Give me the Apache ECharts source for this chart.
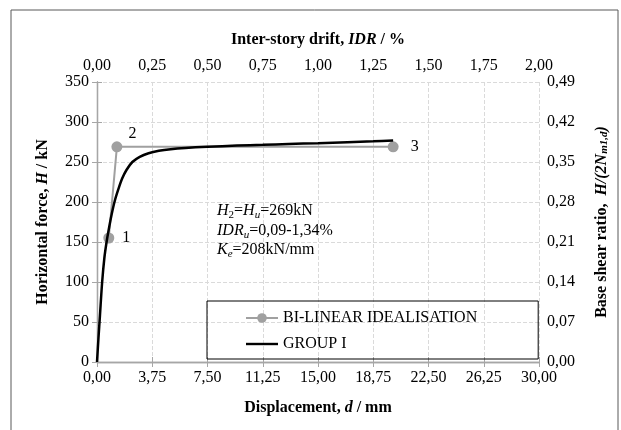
<!DOCTYPE html>
<html><head><meta charset="utf-8">
<script src="https://cdn.jsdelivr.net/npm/echarts@6/dist/echarts.min.js"></script>
<style>html,body{margin:0;padding:0;background:#fff}#c{width:621px;height:430px}</style>
</head><body><div id="c"></div>
<script>
const groupDisp  = [0, 0.1, 0.2, 0.35, 0.5, 0.65, 0.8, 1.0, 1.2, 1.45, 1.7, 2.0, 2.4, 2.9, 3.5, 4.2, 5.0, 6.0, 7.5, 9.5, 11.25, 13.0, 15.0, 17.0, 18.75, 20.1];
const groupForce = [0, 30, 58, 100, 130, 150, 166, 185, 201, 216, 229, 240, 250, 256.5, 261, 264, 266, 267.5, 269, 270.5, 271.5, 272.5, 273.5, 274.8, 275.8, 277];
const bilinDisp  = [0.8, 1.35, 20.1];
const bilinForce = [155, 269, 269];
const bilinLabels = ['1', '2', '3'];
const seriesNames = ['BI-LINEAR IDEALISATION', 'GROUP I'];

const FONT = 'Liberation Serif';
const comma = (v, d) => v.toFixed(d).replace('.', ',');
const chart = echarts.init(document.getElementById('c'), null, {renderer: 'canvas'});
const axisLine = {show: true, lineStyle: {color: '#a6a6a6', width: 1.3}};
const axisTick = {show: true, inside: false, length: 5, lineStyle: {color: '#a6a6a6'}};
const split = {show: true, lineStyle: {color: '#dadada', type: [4, 2], width: 1}};
const lbl = {color: '#000', fontFamily: FONT, fontSize: 16};
const nameRich = {
  b: {fontFamily: FONT, fontSize: 16, fontWeight: 'bold', color: '#000'},
  i: {fontFamily: FONT, fontSize: 16, fontWeight: 'bold', fontStyle: 'italic', color: '#000'},
  s: {fontFamily: FONT, fontSize: 11, fontWeight: 'bold', fontStyle: 'italic', color: '#000', verticalAlign: 'bottom', lineHeight: 12}
};
const annRich = {
  n: {fontFamily: FONT, fontSize: 16, color: '#000', lineHeight: 20},
  i: {fontFamily: FONT, fontSize: 16, fontStyle: 'italic', color: '#000', lineHeight: 20},
  s: {fontFamily: FONT, fontSize: 11, color: '#000', verticalAlign: 'bottom', lineHeight: 12},
  si: {fontFamily: FONT, fontSize: 11, fontStyle: 'italic', color: '#000', verticalAlign: 'bottom', lineHeight: 12}
};

const option = {
  animation: false,
  backgroundColor: '#fff',
  textStyle: {fontFamily: FONT},
  grid: {left: 97, right: 82, top: 82, bottom: 68},
  legend: {
    data: [
      {name: seriesNames[0]},
      {name: seriesNames[1], icon: 'path://M0,0 L40,0 L40,3 L0,3 Z'}
    ],
    orient: 'vertical',
    left: 207, top: 301,
    padding: [9, 61, 7, 38],
    itemGap: 10,
    itemWidth: 32, itemHeight: 12,
    borderColor: '#000', borderWidth: 1,
    textStyle: {fontFamily: FONT, fontSize: 16, color: '#000'}
  },
  xAxis: [
    {type: 'value', position: 'bottom', min: 0, max: 30, interval: 3.75,
     axisLine, axisTick, splitLine: split,
     axisLabel: Object.assign({margin: 8, formatter: v => comma(v, 2)}, lbl),
     name: '{b|Displacement, }{i|d}{b| / mm}', nameLocation: 'middle', nameGap: 38,
     nameTextStyle: {rich: nameRich}},
    {type: 'value', position: 'top', min: 0, max: 2, interval: 0.25,
     axisLine, axisTick, splitLine: {show: false},
     axisLabel: Object.assign({margin: 8, formatter: v => comma(v, 2)}, lbl),
     name: '{b|Inter-story drift, }{i|IDR}{b| / %}', nameLocation: 'middle', nameGap: 34,
     nameTextStyle: {rich: nameRich}}
  ],
  yAxis: [
    {type: 'value', position: 'left', min: 0, max: 350, interval: 50,
     axisLine, axisTick, splitLine: split,
     axisLabel: Object.assign({margin: 8}, lbl),
     name: '{b|Horizontal force, }{i|H}{b| / kN}', nameLocation: 'middle', nameGap: 46, nameRotate: 90,
     nameTextStyle: {rich: nameRich}},
    {type: 'value', position: 'right', min: 0, max: 0.49, interval: 0.07,
     axisLine, axisTick, splitLine: {show: false},
     axisLabel: Object.assign({margin: 8, formatter: v => comma(v, 2)}, lbl),
     name: '{b|Base shear ratio,  }{i|H/(2N}{s|m1,d}{i|)}', nameLocation: 'middle', nameGap: 55, nameRotate: 90,
     nameTextStyle: {rich: nameRich}}
  ],
  series: [
    {name: seriesNames[0], type: 'line', xAxisIndex: 0, yAxisIndex: 0, z: 2,
     data: bilinDisp.map((d, k) => ({value: [d, bilinForce[k]],
       label: {show: true, formatter: bilinLabels[k], position: 'right', distance: k === 2 ? 12 : 8,
               offset: k === 1 ? [-2, -13] : [0, 0], fontFamily: FONT, fontSize: 16, color: '#000'}})),
     symbol: 'circle', symbolSize: 11,
     lineStyle: {color: '#a0a0a0', width: 2},
     itemStyle: {color: '#a0a0a0'}},
    {name: seriesNames[1], type: 'line', xAxisIndex: 0, yAxisIndex: 0, z: 3,
     data: groupDisp.map((d, k) => [d, groupForce[k]]),
     smooth: 0.3, symbol: 'none', showSymbol: false,
     lineStyle: {color: '#000', width: 2.5},
     itemStyle: {color: '#000'}}
  ],
  graphic: [
    {type: 'rect', shape: {x: 11, y: 10, width: 607, height: 440}, silent: true, z: -1,
     style: {fill: null, stroke: '#595959', lineWidth: 1}},
    {type: 'text', left: 217, top: 203, z: 10,
     style: {text: '{i|H}{s|2}{n|=}{i|H}{si|u}{n|=269kN}', rich: annRich}},
    {type: 'text', left: 217, top: 223, z: 10,
     style: {text: '{i|IDR}{si|u}{n|=0,09-1,34%}', rich: annRich}},
    {type: 'text', left: 217, top: 242, z: 10,
     style: {text: '{i|K}{si|e}{n|=208kN/mm}', rich: annRich}}
  ]
};
chart.setOption(option);
</script></body></html>
